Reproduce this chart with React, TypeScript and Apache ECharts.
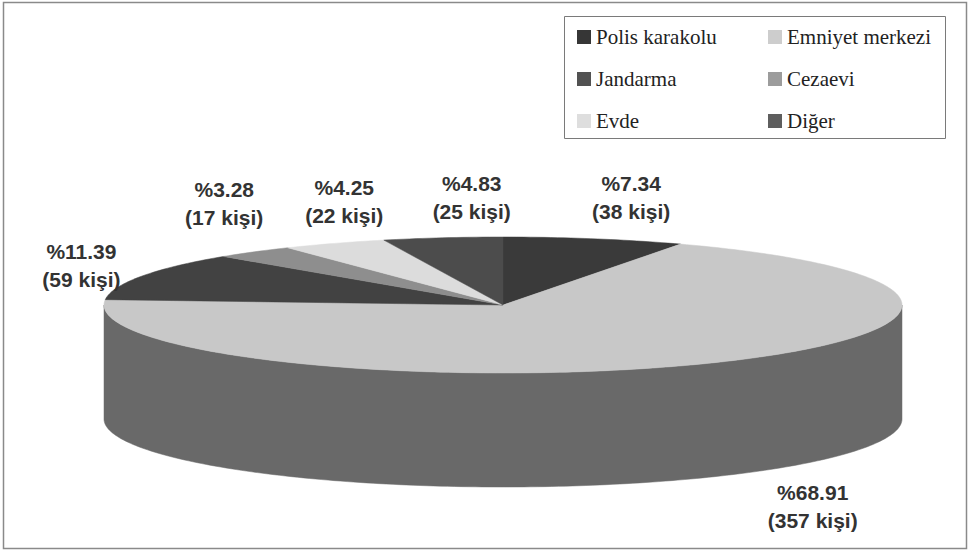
import { useEffect, useRef } from "react";
import * as echarts from "echarts";

// Where the people were held (count per place) and the shares printed on the chart
const categories = ["Polis karakolu", "Emniyet merkezi", "Jandarma", "Cezaevi", "Evde", "Diğer"];
const counts = [38, 357, 59, 17, 22, 25];
const percents = [7.34, 68.91, 11.39, 3.28, 4.25, 4.83];

// Grey shades: top face, side wall, legend swatch
const topColors = ["#3a3a3a", "#c8c8c8", "#424242", "#8e8e8e", "#dcdcdc", "#4c4c4c"];
const sideColors = ["#2a2a2a", "#696969", "#323232", "#666666", "#9a9a9a", "#3a3a3a"];
const swatchColors = ["#363636", "#cdcdcd", "#525252", "#9c9c9c", "#dedede", "#5e5e5e"];

// Label offsets from the rim point at each slice's middle angle
const labelNudge: [number, number][] = [
  [37, -41],
  [113, 28],
  [-60, -11],
  [-30, -48],
  [10, -42],
  [29, -40],
];

// Ellipse geometry of the tilted disc
const CX = 503;
const CY = 305;
const RX = 399;
const RY = 68;
const DEPTH = 114;

const total = counts.reduce((a, b) => a + b, 0);

function rim(deg: number, dy = 0): [number, number] {
  const t = (deg * Math.PI) / 180;
  return [CX + RX * Math.cos(t), CY - RY * Math.sin(t) + dy];
}

function arc(from: number, to: number, dy = 0): [number, number][] {
  const pts: [number, number][] = [];
  const n = Math.max(2, Math.ceil(Math.abs(from - to) / 1));
  for (let k = 0; k <= n; k++) {
    pts.push(rim(from + ((to - from) * k) / n, dy));
  }
  return pts;
}

function sliceStart(i: number): number {
  let cum = 0;
  for (let j = 0; j < i; j++) cum += counts[j];
  return 90 - (360 * cum) / total;
}

function makeRenderItem(i: number) {
  return (_params: any, api: any) => {
    const value = api.value(0);
    const a0 = sliceStart(i);
    const a1 = a0 - (360 * value) / total;
    const children: any[] = [];

    // Front wall: the part of the slice on the lower half of the rim
    for (let k = -2; k <= 1; k++) {
      const lo = Math.max(a1, -180 + 360 * k);
      const hi = Math.min(a0, 360 * k);
      if (lo < hi) {
        const pts = [...arc(hi, lo), ...arc(lo, hi, DEPTH)];
        children.push({
          type: "polygon",
          shape: { points: pts },
          style: { fill: sideColors[i], stroke: sideColors[i], lineWidth: 0.5 },
        });
      }
    }

    // Top face
    const topPts: [number, number][] = [[CX, CY], ...arc(a0, a1)];
    children.push({
      type: "polygon",
      shape: { points: topPts },
      style: { fill: topColors[i], stroke: topColors[i], lineWidth: 0.5 },
    });

    // Value label
    const mid = (a0 + a1) / 2;
    const front = Math.sin((mid * Math.PI) / 180) < 0;
    const [lx, ly] = rim(mid, front ? DEPTH : 0);
    children.push({
      type: "text",
      x: lx + labelNudge[i][0],
      y: ly + labelNudge[i][1],
      z2: 10,
      style: {
        text: `%${percents[i].toFixed(2)}\n(${value} kişi)`,
        fill: "#333333",
        fontFamily: "Liberation Sans, Arial, sans-serif",
        fontWeight: "bold",
        fontSize: 21,
        lineHeight: 28,
        align: "center",
        verticalAlign: "middle",
      },
    });

    return { type: "group", children };
  };
}

const legendText = {
  fontFamily: "Liberation Serif, Times New Roman, serif",
  fontSize: 21,
  lineHeight: 22,
  color: "#222222",
};

function legendColumn(names: string[], left: number) {
  return {
    data: names,
    orient: "vertical",
    left,
    top: 26,
    padding: 0,
    itemWidth: 14,
    itemHeight: 14,
    itemGap: 20,
    icon: "rect",
    selectedMode: false,
    textStyle: legendText,
  };
}

export default function App() {
  const ref = useRef<HTMLDivElement>(null);

  useEffect(() => {
    if (!ref.current) return;
    const chart = echarts.init(ref.current, null, { renderer: "svg" });

    const series = categories.map((name, i) => ({
      type: "custom",
      name,
      coordinateSystem: "none",
      silent: true,
      itemStyle: { color: swatchColors[i] },
      data: [[counts[i]]],
      renderItem: makeRenderItem(i),
    }));

    chart.setOption({
      animation: false,
      backgroundColor: "#ffffff",
      legend: [
        legendColumn([categories[0], categories[2], categories[4]], 577),
        legendColumn([categories[1], categories[3], categories[5]], 768),
      ],
      graphic: [
        {
          type: "rect",
          shape: { x: 3.5, y: 2.5, width: 963, height: 546 },
          style: { fill: "none", stroke: "#8a8a8a", lineWidth: 1.5 },
          silent: true,
        },
        {
          type: "rect",
          shape: { x: 564.5, y: 16.5, width: 381, height: 122 },
          style: { fill: "none", stroke: "#7a7a7a", lineWidth: 1 },
          silent: true,
        },
      ],
      series,
    });

    return () => chart.dispose();
  }, []);

  return (
    <div
      ref={ref}
      style={{ position: "fixed", left: 0, top: 0, width: 970, height: 551 }}
    />
  );
}
